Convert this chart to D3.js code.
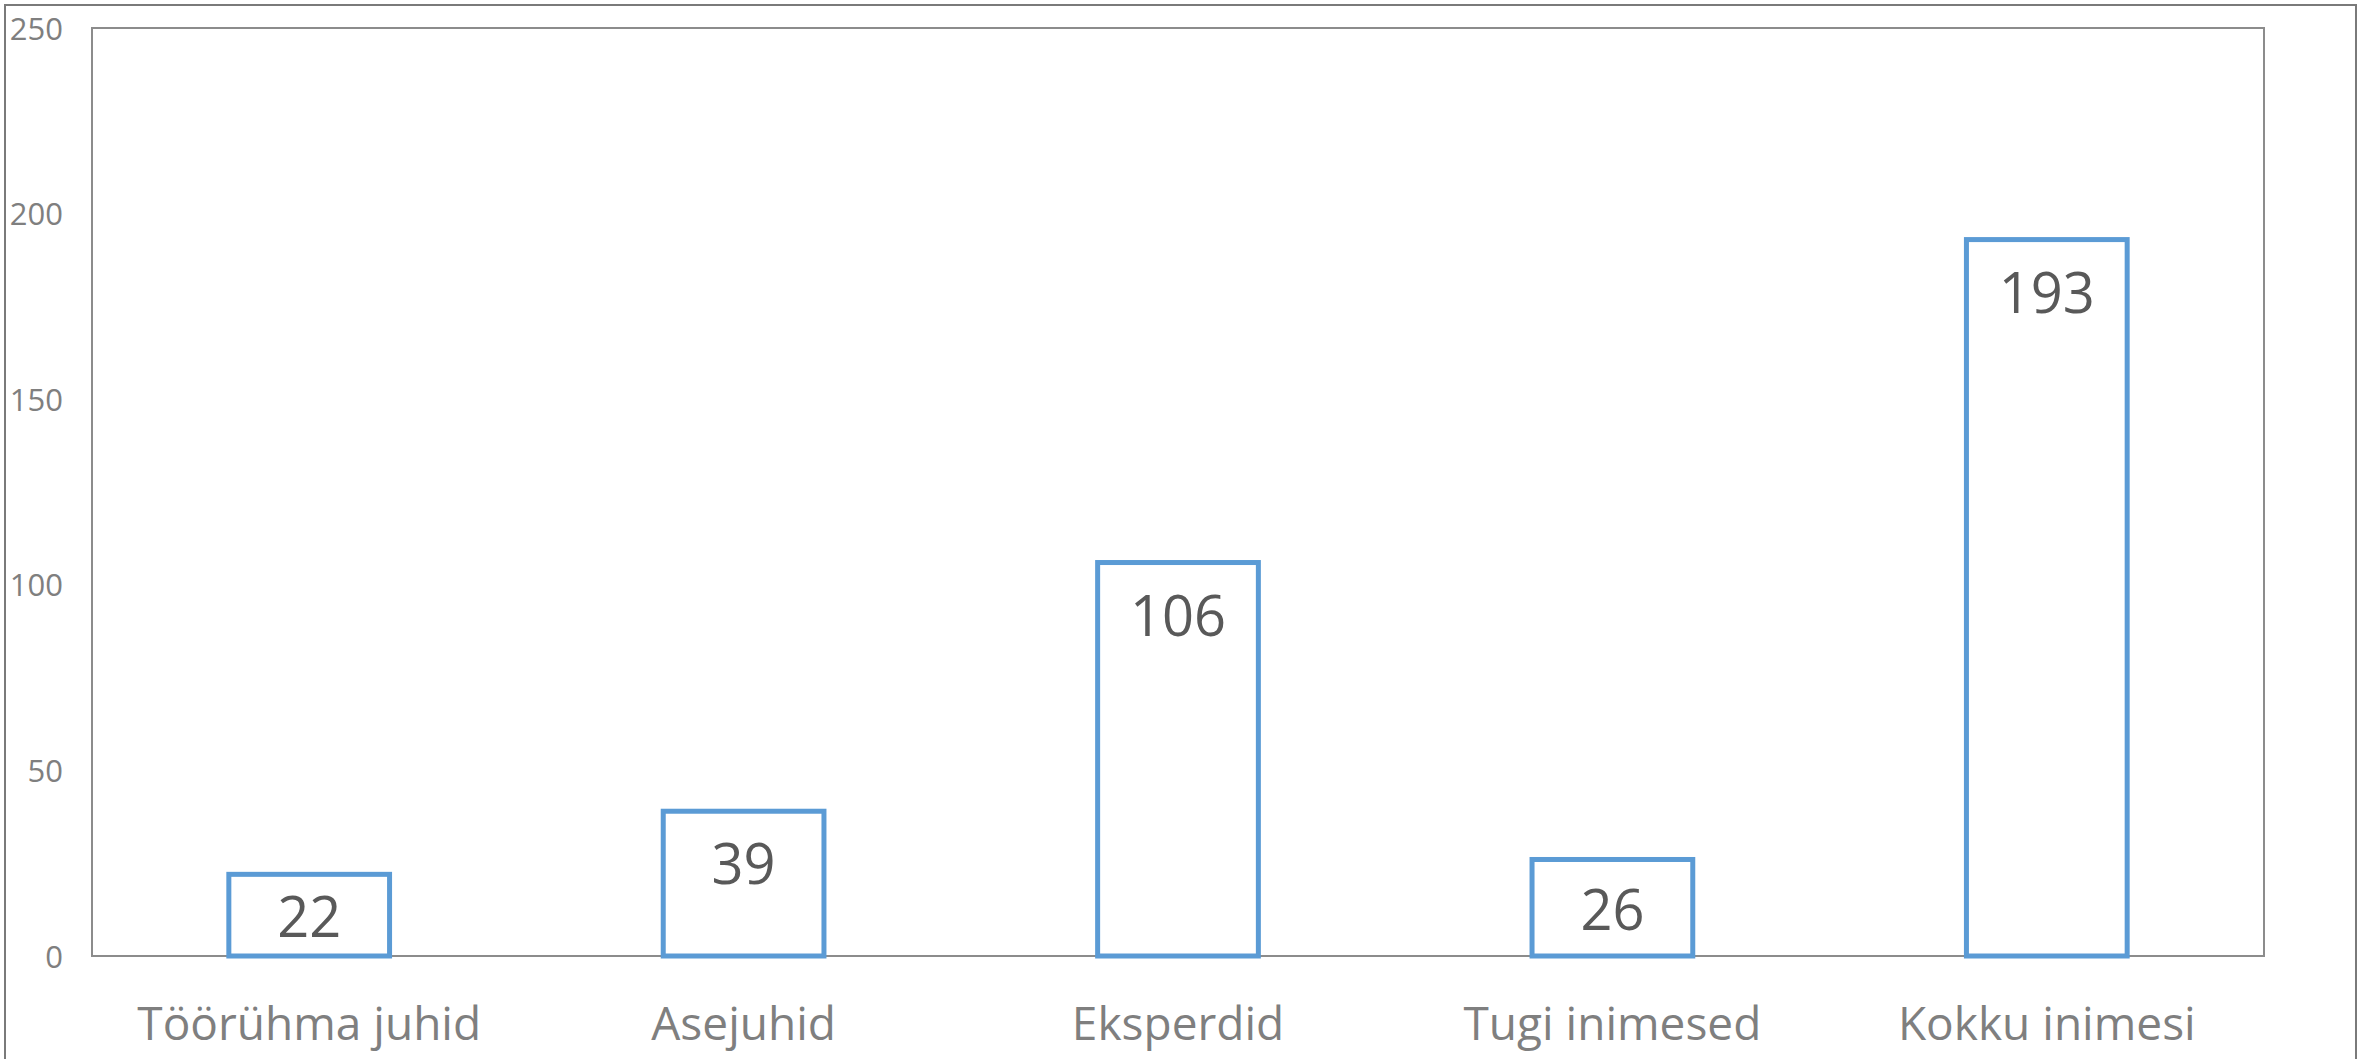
<!DOCTYPE html>
<html>
<head>
<meta charset="utf-8">
<script src="https://cdn.jsdelivr.net/npm/d3@7"></script>
<style>
html,body{margin:0;padding:0;background:#fff;overflow:hidden;}
svg{display:block;}
</style>
</head>
<body>
<script>
const categories = ["Töörühma juhid", "Asejuhid", "Eksperdid", "Tugi inimesed", "Kokku inimesi"];
const values = [22, 39, 106, 26, 193];
const yTicks = [0, 50, 100, 150, 200, 250];

const W = 2368, H = 1059;
const plot = {left: 92, top: 28, right: 2264, bottom: 956};
const font = "'Open Sans', 'Segoe UI', sans-serif";

const svg = d3.select("body").append("svg").attr("width", W).attr("height", H);

// outer chart border
svg.append("rect").attr("x", 5).attr("y", 5).attr("width", 2351).attr("height", H + 10)
  .attr("fill", "#fff").attr("stroke", "#7a7a7a").attr("stroke-width", 2);

const x = d3.scaleBand().domain(categories).range([plot.left, plot.right])
  .paddingInner(0.63).paddingOuter(0.315);
const y = d3.scaleLinear().domain([0, 250]).range([plot.bottom, plot.top]);

// plot area border
svg.append("rect").attr("x", plot.left).attr("y", plot.top)
  .attr("width", plot.right - plot.left).attr("height", plot.bottom - plot.top)
  .attr("fill", "none").attr("stroke", "#8c8c8c").attr("stroke-width", 2);

// y axis labels
const yAxis = d3.axisLeft(y).tickValues(yTicks).tickSize(0).tickPadding(0);
const yg = svg.append("g").attr("transform", `translate(63,0)`).call(yAxis);
yg.select(".domain").remove();
yg.selectAll("text").attr("font-family", font).attr("font-size", 31).attr("fill", "#7f7f7f")
  .attr("dy", "0.36em");

// x axis labels
const xAxis = d3.axisBottom(x).tickSize(0).tickPadding(0);
const xg = svg.append("g").attr("transform", `translate(0,${plot.bottom})`).call(xAxis);
xg.select(".domain").remove();
xg.selectAll("text").attr("font-family", font).attr("font-size", 46).attr("fill", "#7f7f7f")
  .attr("dy", null).attr("y", 84);

// bars
svg.append("g").selectAll("rect").data(values).join("rect")
  .attr("x", (d, i) => x(categories[i]))
  .attr("y", d => y(d))
  .attr("width", x.bandwidth())
  .attr("height", d => y(0) - y(d))
  .attr("fill", "#fff")
  .attr("stroke", "#5b9bd5")
  .attr("stroke-width", 5);

// data labels (inside end)
svg.append("g").selectAll("text").data(values).join("text")
  .attr("x", (d, i) => x(categories[i]) + x.bandwidth() / 2)
  .attr("y", d => {
    const top = y(d), h = y(0) - y(d);
    return h < 110 ? (top + y(0)) / 2 + 2 : top + 53;
  })
  .attr("dy", "0.357em")
  .attr("text-anchor", "middle")
  .attr("font-family", font).attr("font-size", 56).attr("fill", "#595959")
  .text(d => d);
</script>
</body>
</html>
